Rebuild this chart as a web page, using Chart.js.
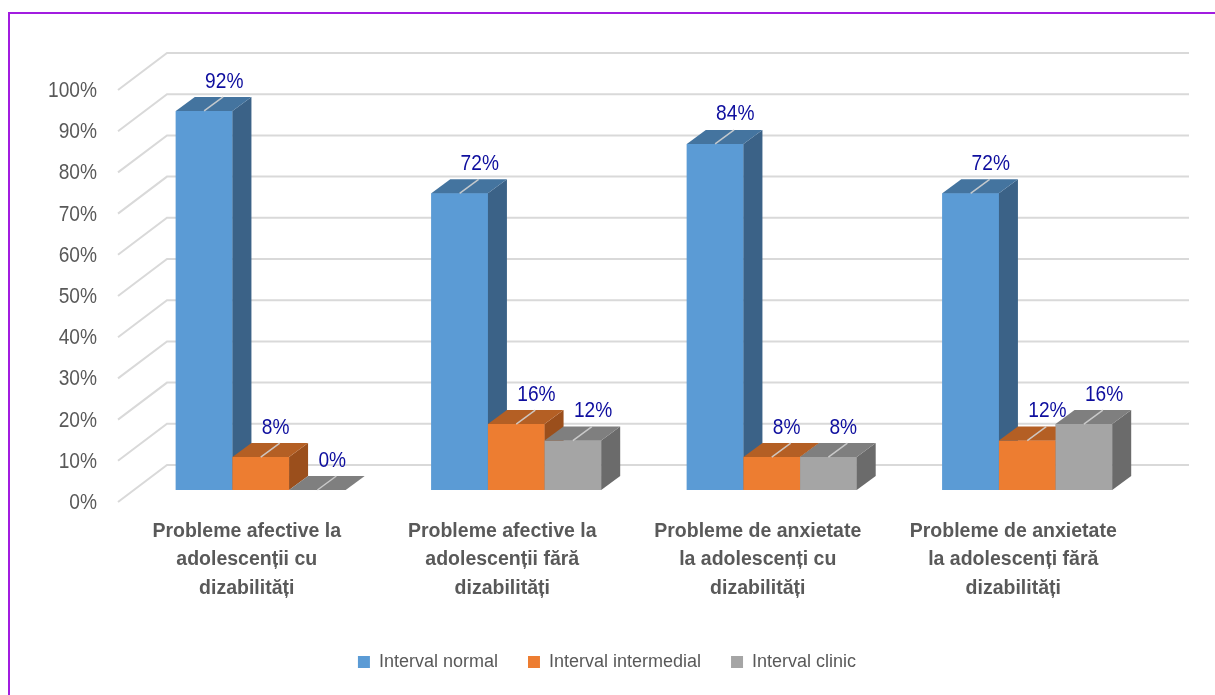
<!DOCTYPE html>
<html>
<head>
<meta charset="utf-8">
<script src="https://cdn.jsdelivr.net/npm/chart.js@4.4.1/dist/chart.umd.min.js"></script>
<style>
  html, body { margin: 0; padding: 0; background: #ffffff; }
  canvas { display: block; }
</style>
</head>
<body>
<canvas id="chart" width="1215" height="695"></canvas>
<script>
// ---- data ----
const categories = [
  ['Probleme afective la', 'adolescenții cu', 'dizabilități'],
  ['Probleme afective la', 'adolescenții fără', 'dizabilități'],
  ['Probleme de anxietate', 'la adolescenți cu', 'dizabilități'],
  ['Probleme de anxietate', 'la adolescenți fără', 'dizabilități']
];
const seriesNames = ['Interval normal', 'Interval intermedial', 'Interval clinic'];
const intervalNormal = [92, 72, 84, 72];
const intervalIntermedial = [8, 16, 8, 12];
const intervalClinic = [0, 12, 8, 16];
const yTicks = [0, 10, 20, 30, 40, 50, 60, 70, 80, 90, 100];

// ---- styling ----
const SANS = "'Liberation Sans', Arial, sans-serif";
const NARROW_SCALE = 0.87;          // horizontal squeeze for a narrow face
const TEXT_GREY = '#595959';
const LABEL_BLUE = '#0e0e9e';
const faces = [
  { front: '#5b9bd5', top: '#44749f', side: '#3b6287' },
  { front: '#ed7d31', top: '#b45f24', side: '#9b4f1c' },
  { front: '#a5a5a5', top: '#7f7f7f', side: '#6b6b6b' }
];
// oblique projection offsets (pixels) used for the 3D look
const BAR_DEPTH = { x: 19, y: -14 };
const WALL_FRONT = { x: -15, y: 12 };
const WALL_BACK = { x: 34, y: -25 };

function poly(ctx, pts, color) {
  ctx.beginPath();
  ctx.moveTo(pts[0][0], pts[0][1]);
  for (let i = 1; i < pts.length; i++) ctx.lineTo(pts[i][0], pts[i][1]);
  ctx.closePath();
  ctx.fillStyle = color;
  ctx.fill();
}

function narrowText(ctx, text, x, y) {
  ctx.save();
  ctx.translate(x, y);
  ctx.scale(NARROW_SCALE, 1);
  ctx.fillText(text, 0, 0);
  ctx.restore();
}

const box3d = {
  id: 'box3d',
  beforeDraw(chart) {
    const { ctx, width } = chart;
    ctx.save();
    ctx.strokeStyle = '#a21ce0';
    ctx.lineWidth = 2;
    ctx.beginPath();
    ctx.moveTo(9, chart.height);
    ctx.lineTo(9, 13);
    ctx.lineTo(width, 13);
    ctx.stroke();
    ctx.restore();
  },
  beforeDatasetsDraw(chart) {
    const { ctx, chartArea: { left, right }, scales: { y } } = chart;
    ctx.save();
    ctx.strokeStyle = '#d9d9d9';
    ctx.lineWidth = 2;
    ctx.font = '22px ' + SANS;
    ctx.fillStyle = TEXT_GREY;
    ctx.textAlign = 'right';
    ctx.textBaseline = 'middle';
    yTicks.forEach(v => {
      const py = y.getPixelForValue(v);
      ctx.beginPath();
      ctx.moveTo(left + WALL_FRONT.x, py + WALL_FRONT.y);
      ctx.lineTo(left + WALL_BACK.x, py + WALL_BACK.y);
      ctx.lineTo(right + WALL_BACK.x, py + WALL_BACK.y);
      ctx.stroke();
      narrowText(ctx, v + '%', left - 36, py + WALL_FRONT.y + 1);
    });
    ctx.restore();
  },
  afterDatasetsDraw(chart) {
    const { ctx } = chart;
    const metas = chart.data.datasets.map((d, i) => chart.getDatasetMeta(i));
    const dx = BAR_DEPTH.x, dy = BAR_DEPTH.y;
    ctx.save();
    // boxes, drawn category by category, left to right
    for (let c = 0; c < categories.length; c++) {
      metas.forEach((meta, di) => {
        const { x, y, base, width } = meta.data[c].getProps(['x', 'y', 'base', 'width'], true);
        const l = x - width / 2, r = x + width / 2;
        const f = faces[di];
        poly(ctx, [[l, y], [r, y], [r, base], [l, base]], f.front);
        poly(ctx, [[r, y], [r + dx, y + dy], [r + dx, base + dy], [r, base]], f.side);
        poly(ctx, [[l, y], [l + dx, y + dy], [r + dx, y + dy], [r, y]], f.top);
        // leader line across the top face
        ctx.beginPath();
        ctx.moveTo(x, y);
        ctx.lineTo(x + dx, y + dy);
        ctx.strokeStyle = 'rgba(210,210,210,0.9)';
        ctx.lineWidth = 1.5;
        ctx.stroke();
      });
    }
    // value labels
    ctx.font = '22px ' + SANS;
    ctx.fillStyle = LABEL_BLUE;
    ctx.textAlign = 'left';
    ctx.textBaseline = 'middle';
    metas.forEach((meta, di) => {
      const values = chart.data.datasets[di].data;
      meta.data.forEach((bar, c) => {
        const { x, y } = bar.getProps(['x', 'y'], true);
        narrowText(ctx, values[c] + '%', x + 1, y - 29.5);
      });
    });
    ctx.restore();
  }
};

new Chart(document.getElementById('chart'), {
  type: 'bar',
  data: {
    labels: categories,
    datasets: [
      { label: seriesNames[0], data: intervalNormal, backgroundColor: faces[0].front },
      { label: seriesNames[1], data: intervalIntermedial, backgroundColor: faces[1].front },
      { label: seriesNames[2], data: intervalClinic, backgroundColor: faces[2].front }
    ]
  },
  options: {
    responsive: false,
    animation: false,
    devicePixelRatio: 1,
    layout: { padding: { left: 59, right: 60, top: 78, bottom: 14 } },
    datasets: { bar: { categoryPercentage: 0.665, barPercentage: 1.0, borderWidth: 0 } },
    scales: {
      x: {
        grid: { display: false, drawTicks: false },
        border: { display: false },
        ticks: {
          autoSkip: false,
          maxRotation: 0,
          padding: 27,
          labelOffset: -14,
          color: TEXT_GREY,
          font: { family: SANS, size: 19.5, weight: 'bold', lineHeight: 1.46 }
        },
        afterFit(s) { s.height = 133; }
      },
      y: {
        min: 0,
        max: 100,
        ticks: { display: false, stepSize: 10 },
        grid: { display: false, drawTicks: false },
        border: { display: false },
        afterFit(s) { s.width = 74; }
      }
    },
    plugins: {
      legend: {
        position: 'bottom',
        labels: {
          boxWidth: 12,
          boxHeight: 12,
          padding: 30,
          color: TEXT_GREY,
          font: { family: SANS, size: 18 }
        }
      },
      tooltip: { enabled: false }
    }
  },
  plugins: [box3d]
});
</script>
</body>
</html>
